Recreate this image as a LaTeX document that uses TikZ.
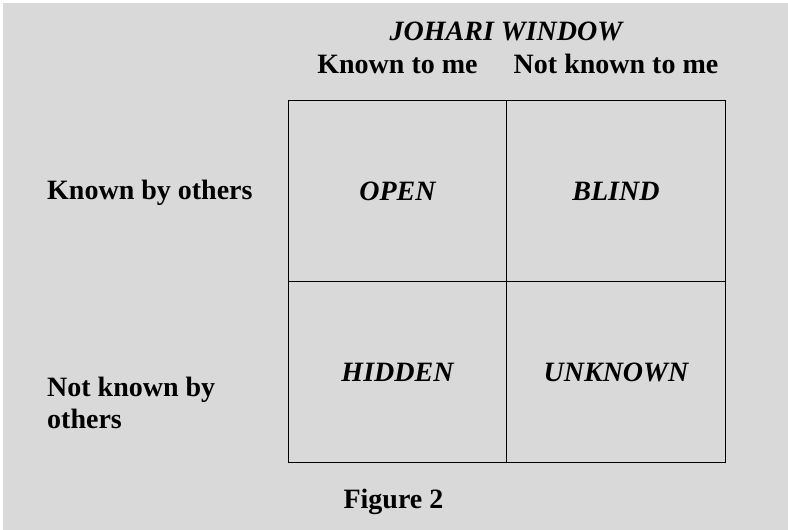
\documentclass[tikz,border=0pt]{standalone}
\usepackage{fontspec}
\setmainfont{Liberation Serif}
\usepackage{xcolor}
\usetikzlibrary{positioning}
\definecolor{jgray}{RGB}{217,217,217}
\tikzset{
  pane/.style={draw=black, line width=1.2pt, minimum width=218.5pt, minimum height=181pt, inner sep=0pt, outer sep=0pt, font=\bfseries\itshape},
  head/.style={font=\bfseries, inner sep=0pt, anchor=base},
  side/.style={font=\bfseries, inner sep=0pt, anchor=base west, align=left},
}

\begin{document}
\begin{tikzpicture}[x=1pt, y=-1pt, node distance=0pt]
  \fontsize{28}{32}\selectfont
  % page: white strip top/left, grey field
  \fill[white] (0,0) rectangle (788,530);
  \fill[jgray] (3,3) rectangle (788,530);
  \useasboundingbox (0,0) rectangle (788,530);
  % the four panes
  \node[pane] (open) at (397.5,191) {OPEN};
  \node[pane, right=of open] (blind) {BLIND};
  \node[pane, below=of open] (hidden) {HIDDEN};
  \node[pane, right=of hidden] (unknown) {UNKNOWN};
  % headings
  \node[head, font=\bfseries\itshape] (title) at (506,41) {JOHARI WINDOW};
  \node[head] (knownme) at (open.north |- 0,73) {Known to me};
  \node[head] (notknownme) at (blind.north |- 0,73) {Not known to me};
  \node[side] (knownothers) at (47,199) {Known by others};
  \node[side] (notknownothers) at (47,428) {Not known by\\others};
  \node[head] (caption) at (393.5,508) {Figure 2};
\end{tikzpicture}
\end{document}
